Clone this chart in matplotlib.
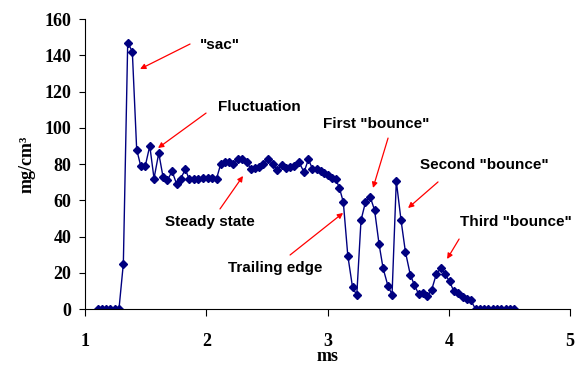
import matplotlib.pyplot as plt

# time (ms) and density (mg/cm3)
t_ms = [1.107, 1.140, 1.173, 1.206, 1.247, 1.280, 1.316, 1.352, 1.390, 1.426,
        1.459, 1.497, 1.534, 1.569, 1.608, 1.643, 1.679, 1.718, 1.755, 1.789,
        1.827, 1.860, 1.896, 1.935, 1.976, 2.012, 2.050, 2.085, 2.119, 2.155,
        2.190, 2.223, 2.264, 2.297, 2.334, 2.367, 2.402, 2.438, 2.471, 2.512,
        2.548, 2.586, 2.622, 2.658, 2.691, 2.724, 2.765, 2.806, 2.842, 2.875,
        2.911, 2.944, 2.971, 3.007, 3.040, 3.068, 3.097, 3.130, 3.167, 3.206,
        3.241, 3.276, 3.313, 3.351, 3.388, 3.425, 3.458, 3.499, 3.532, 3.567,
        3.606, 3.642, 3.682, 3.716, 3.751, 3.790, 3.823, 3.859, 3.897, 3.934,
        3.969, 4.006, 4.040, 4.076, 4.113, 4.146, 4.181, 4.221, 4.254, 4.291,
        4.326, 4.362, 4.395, 4.431, 4.469, 4.505, 4.538]
density = [0, 0, 0, 0, 0, 0, 25, 147, 142, 88,
           79, 79, 90, 72, 86, 73, 71, 76, 69, 72,
           77, 71.5, 72, 72, 72.5, 72.5, 72.5, 72, 80, 81,
           81, 80, 82.5, 82.5, 81, 77.5, 78, 78.5, 80, 82.5,
           80, 76.5, 79.5, 78, 78.5, 79, 81, 75.5, 82.5, 77.5,
           77, 76, 75, 74, 72.5, 71.5, 67, 59, 29.5, 12,
           7.7, 49, 59, 62, 54.5, 35.7, 22.5, 12.5, 8, 70.6,
           49, 31.6, 19, 13.2, 8.3, 8.7, 7, 10.7, 19.2, 22.6,
           19.3, 15.2, 10, 9, 6.8, 5.7, 4.7, 0, 0, 0,
           0, 0, 0, 0, 0, 0, 0]

x_ticks = [1, 2, 3, 4, 5]
y_ticks = [0, 20, 40, 60, 80, 100, 120, 140, 160]

# annotation label, text position, arrow tail, arrow head
labels = ['"sac"', 'Fluctuation', 'Steady state', 'Trailing edge',
          'First "bounce"', 'Second "bounce"', 'Third "bounce"']
text_xy = [(2.11, 145.7), (2.44, 111.4), (2.03, 48), (2.57, 22.6),
           (3.40, 102.1), (4.29, 79.4), (4.55, 48)]
tail_xy = [(1.866, 146.2), (1.998, 108.1), (2.113, 55.2), (2.691, 29.8),
           (3.499, 94.3), (3.911, 70.1), (4.085, 38.6)]
head_xy = [(1.454, 132.4), (1.602, 88.8), (2.303, 73.4), (3.128, 53),
           (3.375, 66.8), (3.664, 55.7), (3.986, 27.6)]

fig = plt.figure(figsize=(5.88, 3.69), dpi=100)
ax = fig.add_axes([0.1446, 0.1626, 0.8249, 0.7859])

ax.plot(t_ms, density, color='#000080', linewidth=1.0,
        marker='D', markersize=4, markerfacecolor='#000080',
        markeredgecolor='#000080')

for lab, txy, tail, head in zip(labels, text_xy, tail_xy, head_xy):
    ax.text(txy[0], txy[1], lab, ha='center', va='center',
            fontsize=11, fontweight='bold', family='Liberation Sans')
    ax.annotate('', xy=head, xytext=tail,
                arrowprops=dict(arrowstyle='-|>', color='red', lw=0.9,
                                mutation_scale=8, shrinkA=0, shrinkB=0))

ax.set_xlim(1, 5)
ax.set_ylim(0, 160)
ax.set_xticks(x_ticks)
ax.set_yticks(y_ticks)

serif = {'family': 'Liberation Serif', 'weight': 'bold', 'size': 13}
ax.set_xticklabels([str(v) for v in x_ticks], fontdict=serif)
ax.set_yticklabels([str(v) for v in y_ticks], fontdict=serif)
ax.tick_params(axis='x', direction='out', length=5, pad=12, width=0.8)
ax.tick_params(axis='y', direction='out', length=4, pad=6, width=0.8)

ax.set_xlabel('ms', fontdict=serif, labelpad=-1)
ax.set_ylabel('mg/cm³', fontdict=serif, labelpad=6)

ax.spines['top'].set_visible(False)
ax.spines['right'].set_visible(False)
ax.spines['left'].set_linewidth(0.8)
ax.spines['bottom'].set_linewidth(0.8)

fig.savefig('out.png', dpi=100)
